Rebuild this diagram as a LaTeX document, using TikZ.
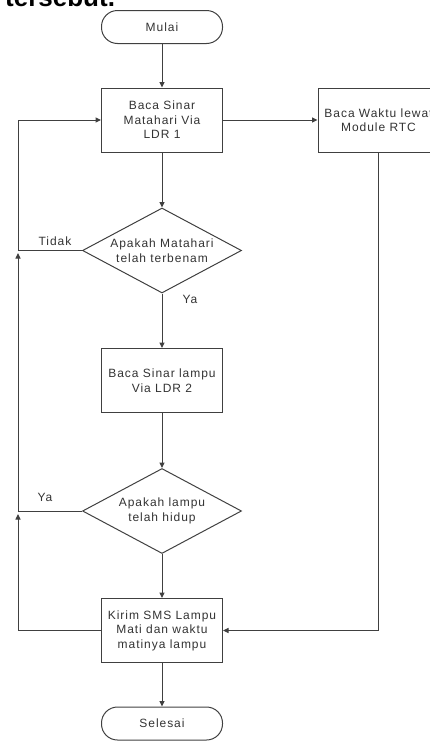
\documentclass[tikz,border=0pt]{standalone}
\usepackage{fontspec}
\setmainfont{Liberation Sans}
\newfontfamily\flowfont[LetterSpace=8]{Liberation Sans}
\usetikzlibrary{arrows.meta,shapes.geometric}
\begin{document}
\begin{tikzpicture}[x=1pt,y=-1pt,
  ln/.style={draw=black!75,line width=1pt},
  arr/.style={ln,-{Triangle[length=5.5pt,width=5pt]}},
  txt/.style={font=\flowfont\fontsize{12}{14.5}\selectfont,text=black!80,align=center},
  term/.style={ln,txt,rounded corners=16pt,minimum width=121,minimum height=33,inner sep=0pt},
  proc/.style={ln,txt,rectangle,minimum width=121,minimum height=64,inner sep=0pt},
  dec/.style={ln,txt,diamond,aspect=1.87,minimum width=159,minimum height=85,inner sep=0pt},
  lab/.style={txt,inner sep=0pt}]
\useasboundingbox (0,0) rectangle (430,747);
\node[font=\bfseries\fontsize{26}{28}\selectfont,anchor=base west,inner sep=0pt] (head) at (5,6) {tersebut.};
\node[term] (mulai) at (162,27) {Mulai};
\node[proc] (b1) at (162,120) {Baca Sinar\\Matahari Via\\LDR 1};
\node[proc] (rtc) at (378.5,120) {Baca Waktu lewat\\Module RTC};
\node[dec] (d1) at (162,250.5) {Apakah Matahari\\telah terbenam};
\node[proc] (b2) at (162,380.5) {Baca Sinar lampu\\Via LDR 2};
\node[dec] (d2) at (162,511) {Apakah lampu\\telah hidup};
\node[proc] (kirim) at (162,630.5) {Kirim SMS Lampu\\Mati dan waktu\\matinya lampu};
\node[term] (selesai) at (162,723.5) {Selesai};
\node[lab] (tidak) at (55,241) {Tidak};
\node[lab] (ya1) at (190,299) {Ya};
\node[lab] (ya2) at (45,497) {Ya};
\coordinate (j1) at (18,250.5);
\coordinate (j2) at (18,511);
\coordinate (c1) at (18,253);
\coordinate (c2) at (18,514);
\draw[arr] (mulai) -- (b1);
\draw[arr] (b1) -- (rtc);
\draw[arr] (b1) -- (d1);
\draw[arr] (d1) -- (b2);
\draw[arr] (b2) -- (d2);
\draw[arr] (d2) -- (kirim);
\draw[arr] (kirim) -- (selesai);
\draw[arr] (rtc.south) |- (kirim.east);
\draw[ln] (d1.west) -- (j1);
\draw[ln] (d2.west) -- (j2);
\draw[arr] (kirim.west) -| (c2);
\draw[arr] (j2) -- (c1);
\draw[arr] (j1) |- (b1.west);
\end{tikzpicture}
\end{document}
